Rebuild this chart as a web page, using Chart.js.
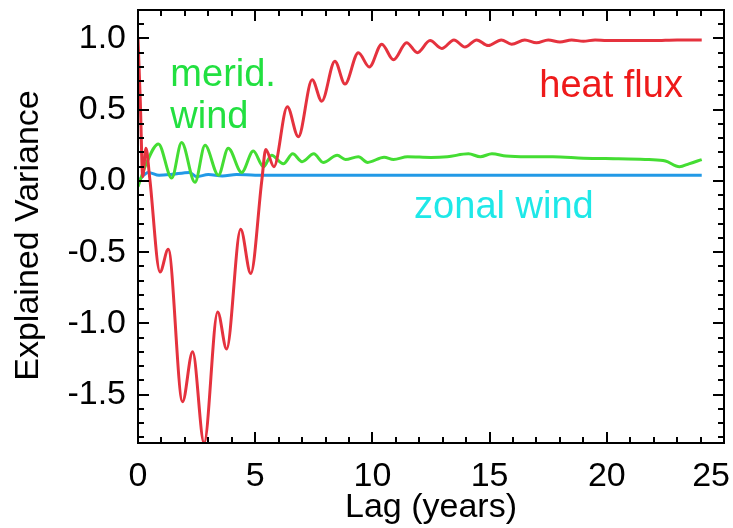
<!DOCTYPE html>
<html>
<head>
<meta charset="utf-8">
<script src="https://cdn.jsdelivr.net/npm/chart.js@4.4.1/dist/chart.umd.min.js"></script>
<style>
  html, body { margin: 0; padding: 0; background: #fff; }
  canvas { display: block; }
</style>
</head>
<body>
<canvas id="chart" width="733" height="528" style="width:733px;height:528px"></canvas>
<script>
// Axis ticks
const xTickValues = [0, 5, 10, 15, 20, 25];
const yTickValues = [-1.5, -1.0, -0.5, 0.0, 0.5, 1.0];

// Heat flux: explained variance vs. lag (years)
const heatLag = [0.00, 0.10, 0.20, 0.34, 0.50, 0.94, 1.29, 1.90, 2.33, 2.82, 3.40, 3.78, 4.38, 4.81,
  5.28, 5.45, 5.80, 6.37, 6.84, 7.43, 7.84, 8.40, 8.83, 9.40, 9.87, 10.40, 10.90, 11.46, 11.92,
  12.46, 12.96, 13.48, 13.95, 14.45, 14.94, 15.50, 15.94, 16.50, 17.00, 17.50, 18.00, 18.50,
  19.00, 19.50, 20.00, 21.00, 22.00, 23.00, 24.05];
const heatVal = [1.00, 0.55, 0.03, 0.23, 0.02, -0.64, -0.48, -1.55, -1.20, -1.84, -0.92, -1.18, -0.34, -0.65,
  0.00, 0.22, 0.10, 0.52, 0.31, 0.71, 0.56, 0.84, 0.68, 0.90, 0.80, 0.96, 0.85, 0.97, 0.90,
  0.985, 0.93, 0.99, 0.94, 0.99, 0.95, 0.99, 0.96, 0.99, 0.97, 0.99, 0.975, 0.99,
  0.98, 0.99, 0.985, 0.985, 0.985, 0.99, 0.99];

// Meridional wind
const meridLag = [0.00, 0.35, 0.87, 1.44, 1.86, 2.43, 2.86, 3.43, 3.85, 4.42, 4.92, 5.35, 5.70,
  6.20, 6.60, 7.00, 7.50, 7.90, 8.50, 8.85, 9.40, 9.80, 10.50, 10.90, 11.50, 12.50, 13.20,
  14.10, 14.60, 15.10, 15.70, 16.60, 17.70, 19.00, 20.50, 21.80, 22.50, 23.10, 23.50, 24.05];
const meridVal = [-0.04, 0.12, 0.26, 0.02, 0.27, -0.01, 0.25, 0.04, 0.23, 0.06, 0.21, 0.10, 0.18,
  0.12, 0.19, 0.135, 0.19, 0.13, 0.18, 0.15, 0.17, 0.13, 0.167, 0.15, 0.17, 0.165, 0.17,
  0.19, 0.17, 0.19, 0.175, 0.17, 0.17, 0.16, 0.155, 0.15, 0.14, 0.10, 0.12, 0.15];

// Zonal wind
const zonalLag = [0.00, 0.44, 0.90, 1.40, 2.20, 2.50, 3.00, 3.60, 4.20, 5.00, 6.00, 8.00, 12.00, 16.00, 20.00, 24.05];
const zonalVal = [0.00, 0.06, 0.04, 0.045, 0.06, 0.03, 0.045, 0.035, 0.045, 0.04, 0.04, 0.04, 0.04, 0.04, 0.04, 0.04];

const FONT = "'Liberation Sans', Arial, Helvetica, sans-serif";

const toPoints = (xs, ys) => xs.map((x, i) => ({ x: x, y: ys[i] }));

// Frame with inward major/minor ticks on all four sides, x tick labels,
// y axis title and series labels
const framePlugin = {
  id: 'frame',
  afterDraw(chart) {
    const { ctx, chartArea: a, scales: { x, y } } = chart;
    ctx.save();
    ctx.strokeStyle = '#000';
    ctx.lineWidth = 2;
    ctx.strokeRect(a.left, a.top, a.right - a.left, a.bottom - a.top);

    const major = 11, minor = 6;
    ctx.beginPath();
    for (let v = 0; v <= 25; v += 1) {
      const px = Math.round(x.getPixelForValue(v));
      const len = v % 5 === 0 ? major : minor;
      ctx.moveTo(px, a.bottom); ctx.lineTo(px, a.bottom - len);
      ctx.moveTo(px, a.top); ctx.lineTo(px, a.top + len);
    }
    for (let k = -18; k <= 12; k++) {
      const v = k / 10;
      const py = Math.round(y.getPixelForValue(v));
      const len = k % 5 === 0 ? major : minor;
      ctx.moveTo(a.left, py); ctx.lineTo(a.left + len, py);
      ctx.moveTo(a.right, py); ctx.lineTo(a.right - len, py);
    }
    ctx.stroke();

    // x tick labels, kept inside the canvas at the right edge
    ctx.fillStyle = '#000';
    ctx.font = '34px ' + FONT;
    ctx.textAlign = 'center';
    ctx.textBaseline = 'alphabetic';
    xTickValues.forEach(v => {
      const t = String(v);
      const w = ctx.measureText(t).width;
      const px = Math.min(x.getPixelForValue(v), chart.width - w / 2 - 3);
      ctx.fillText(t, px, a.bottom + 43);
    });

    // y axis title
    ctx.save();
    ctx.translate(29, (a.top + a.bottom) / 2 + 9);
    ctx.rotate(-Math.PI / 2);
    ctx.textBaseline = 'middle';
    ctx.fillText('Explained Variance', 0, 0);
    ctx.restore();

    // series labels
    ctx.font = '38px ' + FONT;
    ctx.textAlign = 'left';
    const labels = [
      { text: 'merid.', lag: 1.38, val: 0.666, color: '#22e040' },
      { text: 'wind', lag: 1.38, val: 0.372, color: '#22e040' },
      { text: 'heat flux', lag: 17.12, val: 0.589, color: '#ee1a1a' },
      { text: 'zonal wind', lag: 11.78, val: -0.26, color: '#1ee8e8' }
    ];
    labels.forEach(l => {
      ctx.fillStyle = l.color;
      ctx.fillText(l.text, x.getPixelForValue(l.lag), y.getPixelForValue(l.val));
    });
    ctx.restore();
  }
};

new Chart(document.getElementById('chart'), {
  type: 'line',
  data: {
    datasets: [
      { label: 'heat flux', data: toPoints(heatLag, heatVal), borderColor: '#e5323e', borderWidth: 3, order: 0 },
      { label: 'merid. wind', data: toPoints(meridLag, meridVal), borderColor: '#44dd33', borderWidth: 3, order: 1 },
      { label: 'zonal wind', data: toPoints(zonalLag, zonalVal), borderColor: '#2299e6', borderWidth: 3, order: 2 }
    ]
  },
  options: {
    responsive: false,
    devicePixelRatio: 1,
    animation: false,
    layout: { padding: { top: 10, right: 9, left: 0, bottom: 0 } },
    plugins: { legend: { display: false }, tooltip: { enabled: false } },
    elements: {
      point: { radius: 0 },
      line: { cubicInterpolationMode: 'monotone', fill: false }
    },
    scales: {
      x: {
        type: 'linear', min: 0, max: 25,
        grid: { display: false, drawTicks: false },
        border: { display: false },
        ticks: { display: false },
        afterBuildTicks: s => { s.ticks = xTickValues.map(v => ({ value: v })); },
        afterFit: s => { s.height = 85; s.paddingLeft = 0; s.paddingRight = 0; },
        title: { display: true, text: 'Lag (years)', color: '#000',
                 font: { family: FONT, size: 34 }, padding: { top: 0, bottom: 0 } }
      },
      y: {
        min: -1.84, max: 1.2,
        grid: { display: false, drawTicks: false },
        border: { display: false },
        ticks: { color: '#000', font: { family: FONT, size: 34 }, padding: 12,
                 callback: v => v.toFixed(1) },
        afterBuildTicks: s => { s.ticks = yTickValues.map(v => ({ value: v })); },
        afterFit: s => { s.width = 138; s.paddingTop = 0; s.paddingBottom = 0; },
        title: { display: false }
      }
    }
  },
  plugins: [framePlugin]
});
</script>
</body>
</html>
